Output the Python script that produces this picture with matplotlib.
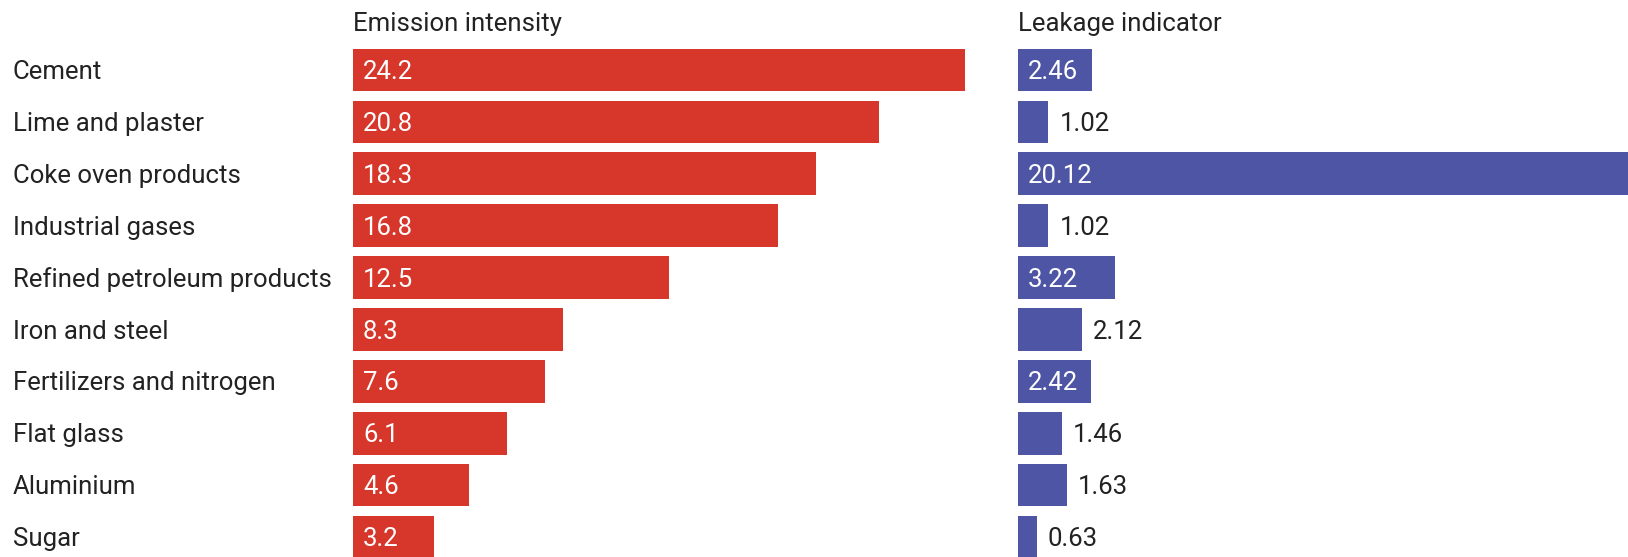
import matplotlib
matplotlib.use("Agg")
import matplotlib.pyplot as plt
from matplotlib.transforms import offset_copy

plt.rcParams['font.family'] = ['Roboto', 'DejaVu Sans']

categories = [
    "Cement", "Lime and plaster", "Coke oven products", "Industrial gases",
    "Refined petroleum products", "Iron and steel", "Fertilizers and nitrogen",
    "Flat glass", "Aluminium", "Sugar",
]
emission_intensity = [24.2, 20.8, 18.3, 16.8, 12.5, 8.3, 7.6, 6.1, 4.6, 3.2]
leakage_indicator = [2.46, 1.02, 20.12, 1.02, 3.22, 2.12, 2.42, 1.46, 1.63, 0.63]
emission_labels = [f"{v:.1f}" for v in emission_intensity]
leakage_labels = [f"{v:.2f}" for v in leakage_indicator]

RED = "#D7362B"
BLUE = "#4E55A4"
TEXT = "#222222"
FS = 18.5
DPI = 100
CAP_PX = 0.711 * FS * DPI / 72  # Roboto cap height in pixels

W, H = 1628, 557
fig = plt.figure(figsize=(W / DPI, H / DPI), dpi=DPI)

slot = 51.9
top_px = 44.0
ax_h = slot * len(categories)


def make_axes(left_px, width_px):
    return fig.add_axes([left_px / W, (H - top_px - ax_h) / H, width_px / W, ax_h / H])


ax1 = make_axes(353, 612)
ax2 = make_axes(1017.5, 610)

fig.canvas.draw()
renderer = fig.canvas.get_renderer()


def centered(ax):
    # baseline shifted so that capitals sit vertically centred on the bar
    return offset_copy(ax.transData, fig=fig, x=0, y=-CAP_PX / 2, units="dots")


def draw_panel(ax, values, labels, color, title):
    n = len(values)
    y = list(range(n))
    ax.barh(y, values, height=0.82, color=color, left=0)
    ax.set_xlim(0, max(values))
    ax.set_ylim(n - 0.5, -0.5)
    ax.axis("off")
    px_per_unit = ax.bbox.width / max(values)
    pad = 10
    tr = centered(ax)
    for yi, v, lab in zip(y, values, labels):
        t = ax.text(0, yi, lab, fontsize=FS, va="baseline", ha="left", transform=tr)
        tw = t.get_window_extent(renderer).width
        bar_w = v * px_per_unit
        if tw + 2 * pad <= bar_w:
            t.set_x(pad / px_per_unit)
            t.set_color("white")
        else:
            t.set_x(v + (pad + 1) / px_per_unit)
            t.set_color(TEXT)
    fig.text(ax.get_position().x0, 1 - 31.5 / H, title, fontsize=FS,
             color=TEXT, va="baseline", ha="left")


draw_panel(ax1, emission_intensity, emission_labels, RED, "Emission intensity")
draw_panel(ax2, leakage_indicator, leakage_labels, BLUE, "Leakage indicator")

tr1 = centered(ax1)
for yi, cat in enumerate(categories):
    ax1.text(-340 / (ax1.bbox.width / max(emission_intensity)), yi, cat,
             fontsize=FS, color=TEXT, va="baseline", ha="left",
             transform=tr1, clip_on=False)

fig.savefig("out.png", dpi=DPI, facecolor="white")
